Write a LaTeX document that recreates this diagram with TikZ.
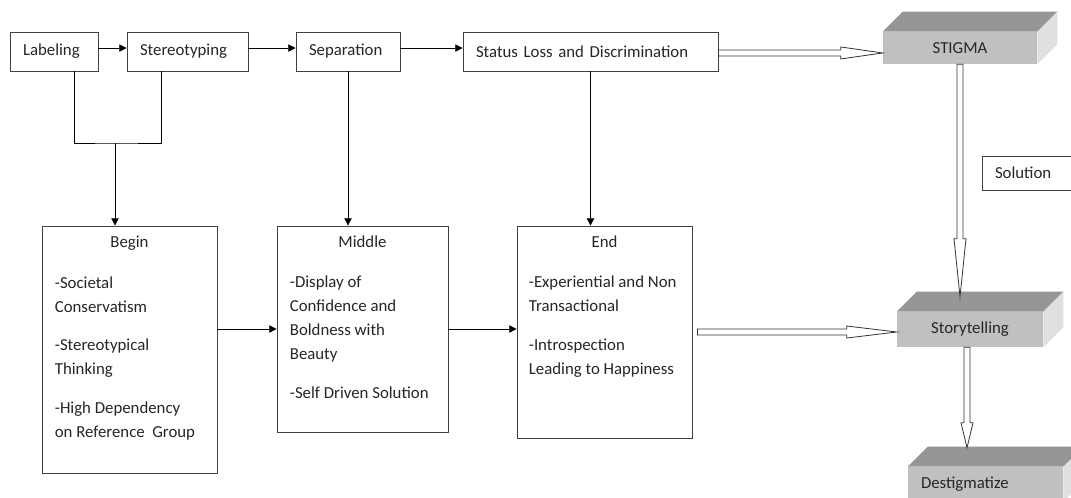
\documentclass[tikz,border=0pt]{standalone}
\usepackage{fontspec}
\setmainfont{Carlito}
\usetikzlibrary{positioning, arrows.meta, calc, fit}
\definecolor{BoxLine}{RGB}{64,64,64}
\definecolor{BoxText}{RGB}{38,38,38}
\definecolor{SlabFront}{RGB}{192,192,192}
\definecolor{SlabTop}{RGB}{150,150,150}
\definecolor{SlabSide}{RGB}{224,224,224}
\tikzset{
  topbox/.style={draw=BoxLine, line width=.6pt, inner xsep=9.75pt, inner ysep=0pt, minimum height=29.25pt, align=left, text=BoxText},
  stagebox/.style={draw=BoxLine, line width=.6pt, inner sep=0pt},
  stagetitle/.style={inner sep=0pt, text=BoxText},
  stagetext/.style={inner sep=0pt, align=left, text=BoxText, font=\fontsize{12.6}{18}\selectfont},
  slab/.style={fill=SlabFront, inner ysep=0pt, text=BoxText},
  flow/.style={-{Triangle[length=5.5pt,width=5.5pt]}, line width=.6pt},
  link/.style={line width=.6pt},
  fat/.style={draw=black!80, fill=white, line width=.6pt, line join=miter}
}
% faces of a 3d slab round a node
\newcommand{\slabfaces}[1]{%
  \fill[SlabTop] (#1.north west) -- ++(20,-20) -- ([shift={(20,-20)}]#1.north east) -- (#1.north east) -- cycle;
  \fill[SlabSide] (#1.north east) -- ++(20,-20) -- ([shift={(20,-20)}]#1.south east) -- (#1.south east) -- cycle;
}
% hollow arrows
\newcommand{\fatright}[3]{%
  \draw[fat] let \p1=(#1), \p2=(#2) in
    (\x1,\y1+2.25pt) -- (\x2-#3,\y1+2.25pt) -- (\x2-#3,\y1+4.5pt) -- (\x2,\y1)
    -- (\x2-#3,\y1-4.5pt) -- (\x2-#3,\y1-2.25pt) -- (\x1,\y1-2.25pt) -- cycle;
}
\newcommand{\fatdown}[4]{%
  \draw[fat] let \p1=(#1), \p2=(#2) in
    (\x1-2.25pt,\y1) -- (\x1-2.25pt,\y2+#4+#3) -- (\x1-4.5pt,\y2+#4+#3) -- (\x1,\y2+#4)
    -- (\x1+4.5pt,\y2+#4+#3) -- (\x1+2.25pt,\y2+#4+#3) -- (\x1+2.25pt,\y1) -- cycle;
}

\begin{document}
\begin{tikzpicture}[x=0.75pt, y=-0.75pt, font=\fontsize{12.6}{15}\selectfont]
  \useasboundingbox (0,0) rectangle (1071,497);
  \clip (0,0) rectangle (1071,497);
  \fill[white] (0,0) rectangle (1071,497);

  % top row
  \node[topbox, minimum width=66pt, text width=46.5pt] (labeling) at (54,51.5) {Labeling};
  \node[topbox, minimum width=90.75pt, text width=71.25pt] (stereotyping) at (187.5,51.5) {Stereotyping};
  \node[topbox, minimum width=78pt, text width=58.5pt] (separation) at (348,51.5) {Separation};
  \node[topbox, minimum width=191.25pt, text width=171.75pt] (status) at (590.5,51.5) {Status Loss and Discrimination};
  \node[topbox, minimum width=77.25pt, text width=57.75pt, minimum height=25.5pt] (solution) at (1033.5,173) {Solution};

  % stages
  \node[stagebox, fit={(42,226) (217,473)}] (begin) {};
  \node[stagebox, fit={(277,226) (448,432)}] (middle) {};
  \node[stagebox, fit={(517,226) (692,438)}] (end) {};

  \node[stagetitle, anchor=base] (begin-title) at ([yshift=-16.5pt]begin.north) {Begin};
  \node[stagetext, anchor=base west] (begin-text) at ([xshift=9.75pt,yshift=-159pt]begin.north west)
    {-Societal\\Conservatism\\[11pt]-Stereotypical\\Thinking\\[11pt]-High Dependency\\on Reference\ \ Group};
  \node[stagetitle, anchor=base] (middle-title) at ([yshift=-16.5pt]middle.north) {Middle};
  \node[stagetext, anchor=base west] (middle-text) at ([xshift=9.75pt,yshift=-129.75pt]middle.north west)
    {-Display of\\Confidence and\\Boldness with\\Beauty\\[11pt]-Self Driven Solution};
  \node[stagetitle, anchor=base] (end-title) at ([yshift=-16.5pt]end.north) {End};
  \node[stagetext, anchor=base west] (end-text) at ([xshift=9pt,yshift=-111.75pt]end.north west)
    {-Experiential and Non\\Transactional\\[11pt]-Introspection\\Leading to Happiness};

  % slabs
  \node[slab, minimum width=115.5pt, minimum height=24pt, text width=115.5pt, inner xsep=0pt, align=center] (stigma) at (960,48) {STIGMA};
  \node[slab, minimum width=109.5pt, minimum height=26.25pt, text width=109.5pt, inner xsep=0pt, align=center] (storytelling) at (970,329.5) {Storytelling};
  \node[slab, minimum width=116.25pt, minimum height=26.25pt, text width=96.75pt, inner xsep=9.75pt, align=left] (destigmatize) at (985.5,484.5) {Destigmatize};
  \slabfaces{stigma}
  \slabfaces{storytelling}
  \slabfaces{destigmatize}

  % flow along the top
  \draw[flow] ([yshift=2.6pt]labeling.east) -- ([yshift=2.6pt]stereotyping.west);
  \draw[flow] ([yshift=2.6pt]stereotyping.east) -- ([yshift=2.6pt]separation.west);
  \draw[flow] ([yshift=2.6pt]separation.east) -- ([yshift=2.6pt]status.west);

  % down to the stages
  \coordinate (merge) at (115,143);
  \draw[link] ([xshift=15pt]labeling.south) |- (merge) -| ([xshift=-19.9pt]stereotyping.south);
  \draw[flow] (merge) -- (merge |- begin.north);
  \draw[flow] (separation.south) -- (separation.south |- middle.north);
  \draw[flow] (status.south) -- (status.south |- end.north);
  \draw[flow] (middle.west -| begin.east) -- (middle.west);
  \draw[flow] (middle.east) -- (middle.east -| end.west);

  % hollow arrows
  \fatright{[yshift=-1.1pt]status.east}{stigma.west}{31.5pt}
  \fatright{[xshift=3.75pt]end.east}{storytelling.west}{37.5pt}
  \fatdown{stigma.south}{storytelling.north}{43.5pt}{11.25pt}
  \fatdown{[xshift=-2.25pt]storytelling.south}{destigmatize.north}{18.75pt}{14.25pt}
\end{tikzpicture}
\end{document}
